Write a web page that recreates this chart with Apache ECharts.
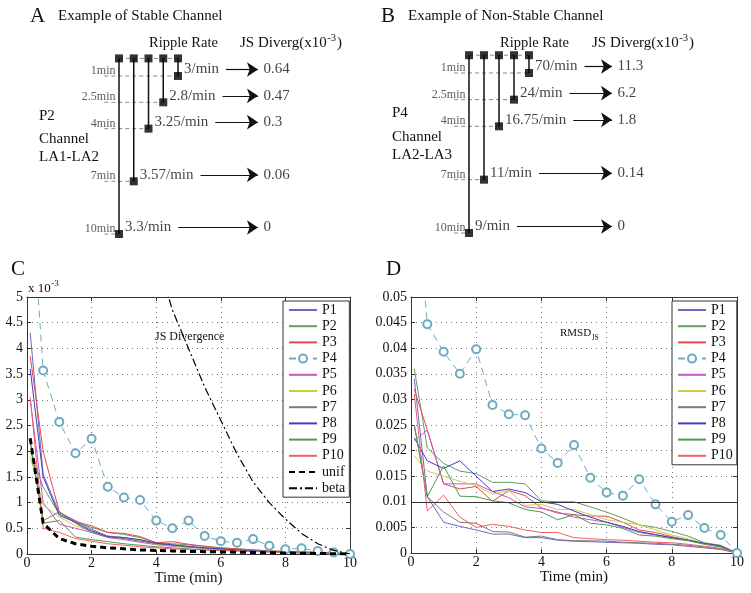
<!DOCTYPE html>
<html><head><meta charset="utf-8">
<script src="https://cdn.jsdelivr.net/npm/echarts@6/dist/echarts.min.js"></script>
<style>html,body{margin:0;padding:0;background:#fff}#c{width:751px;height:593px}</style>
</head><body><div id="c"></div>
<script>
const FONT = '"Liberation Serif", "Times New Roman", serif';

// ---------- Panel A / B data ----------
const timesA = [1, 2.5, 4, 7, 10];
const rippleA = [3, 2.8, 3.25, 3.57, 3.3];
const jsA = [0.64, 0.47, 0.3, 0.06, 0];
const timesB = [1, 2.5, 4, 7, 10];
const rippleB = [70, 24, 16.75, 11, 9];
const jsB = [11.3, 6.2, 1.8, 0.14, 0];

// ---------- Panel C / D data ----------
const timeGrid = [0.1, 0.5, 1, 1.5, 2, 2.5, 3, 3.5, 4, 4.5, 5, 5.5, 6, 6.5, 7, 7.5, 8, 8.5, 9, 9.5, 10];
const xTicks = [0, 2, 4, 6, 8, 10];
const pNames = ['P1','P2','P3','P4','P5','P6','P7','P8','P9','P10'];

// C: JS divergence (x 10^-3)
const c_P1  = [4.3, 1.55, 0.8, 0.65, 0.48, 0.35, 0.32, 0.27, 0.2, 0.17, 0.14, 0.11, 0.1, 0.08, 0.07, 0.05, 0.04, 0.03, 0.02, 0.01, 0];
const c_P2  = [2.0, 1.3, 0.78, 0.62, 0.52, 0.42, 0.38, 0.32, 0.22, 0.2, 0.18, 0.15, 0.12, 0.1, 0.08, 0.06, 0.05, 0.04, 0.03, 0.02, 0];
const c_P3  = [3.85, 2.0, 0.82, 0.63, 0.55, 0.42, 0.4, 0.34, 0.22, 0.24, 0.19, 0.15, 0.12, 0.1, 0.08, 0.06, 0.05, 0.04, 0.03, 0.02, 0];
const c_P4  = [7.3, 3.57, 2.57, 1.96, 2.24, 1.31, 1.1, 1.05, 0.65, 0.5, 0.65, 0.35, 0.25, 0.22, 0.29, 0.16, 0.09, 0.11, 0.06, 0.03, 0];
const c_P5  = [3.0, 1.0, 0.58, 0.5, 0.42, 0.32, 0.28, 0.23, 0.18, 0.15, 0.13, 0.11, 0.09, 0.07, 0.06, 0.05, 0.04, 0.03, 0.02, 0.01, 0];
const c_P6  = [1.9, 0.95, 0.72, 0.55, 0.45, 0.35, 0.3, 0.26, 0.19, 0.16, 0.14, 0.12, 0.1, 0.08, 0.06, 0.05, 0.04, 0.03, 0.02, 0.01, 0];
const c_P7  = [2.2, 0.65, 0.82, 0.6, 0.42, 0.33, 0.3, 0.25, 0.2, 0.17, 0.14, 0.12, 0.1, 0.08, 0.06, 0.05, 0.04, 0.03, 0.02, 0.01, 0];
const c_P8  = [3.6, 1.5, 0.75, 0.62, 0.45, 0.34, 0.32, 0.28, 0.21, 0.18, 0.15, 0.12, 0.1, 0.08, 0.06, 0.05, 0.04, 0.03, 0.02, 0.01, 0];
const c_P9  = [2.2, 0.6, 0.65, 0.33, 0.28, 0.24, 0.2, 0.17, 0.14, 0.12, 0.1, 0.08, 0.07, 0.06, 0.05, 0.04, 0.03, 0.02, 0.015, 0.01, 0];
const c_P10 = [3.05, 0.5, 0.42, 0.3, 0.25, 0.2, 0.17, 0.14, 0.12, 0.1, 0.09, 0.08, 0.07, 0.06, 0.05, 0.04, 0.03, 0.02, 0.015, 0.01, 0];
const c_unif = [2.25, 0.6, 0.3, 0.2, 0.15, 0.12, 0.1, 0.08, 0.07, 0.06, 0.05, 0.045, 0.04, 0.035, 0.03, 0.025, 0.02, 0.015, 0.01, 0.005, 0];
const c_beta = [30, 26, 22, 19, 16, 13.5, 11, 8.6, 5.8, 4.75, 4.0, 3.25, 2.6, 1.95, 1.4, 1.0, 0.68, 0.4, 0.2, 0.07, 0];
const cTicks = [0, 0.5, 1, 1.5, 2, 2.5, 3, 3.5, 4, 4.5, 5];

// D: RMSD of JS
const d_P1  = [0.034, 0.011, 0.006, 0.0052, 0.0045, 0.0037, 0.0037, 0.003, 0.003, 0.0025, 0.0023, 0.0022, 0.0021, 0.002, 0.0019, 0.0017, 0.0016, 0.0013, 0.001, 0.0007, 0];
const d_P2  = [0.036, 0.0205, 0.0175, 0.016, 0.0155, 0.0138, 0.0138, 0.0135, 0.0102, 0.01, 0.01, 0.009, 0.008, 0.0068, 0.0055, 0.005, 0.0042, 0.0033, 0.002, 0.0015, 0];
const d_P3  = [0.032, 0.024, 0.0135, 0.0125, 0.013, 0.0101, 0.0122, 0.0112, 0.0088, 0.0078, 0.0075, 0.0072, 0.0072, 0.006, 0.0045, 0.004, 0.0032, 0.0025, 0.0018, 0.0012, 0];
const d_P4  = [0.075, 0.0447, 0.0393, 0.035, 0.0398, 0.0289, 0.0271, 0.0269, 0.0204, 0.0176, 0.0211, 0.0147, 0.0118, 0.0112, 0.0144, 0.0095, 0.0061, 0.0074, 0.0049, 0.0035, 0];
const d_P5  = [0.022, 0.024, 0.0135, 0.0135, 0.0135, 0.012, 0.0108, 0.009, 0.0087, 0.008, 0.007, 0.0065, 0.006, 0.005, 0.004, 0.0035, 0.003, 0.0025, 0.0018, 0.0012, 0];
const d_P6  = [0.019, 0.016, 0.015, 0.014, 0.0132, 0.0115, 0.0122, 0.0093, 0.0095, 0.0085, 0.0085, 0.0075, 0.0065, 0.006, 0.0055, 0.0045, 0.0035, 0.0028, 0.0019, 0.0014, 0];
const d_P7  = [0.025, 0.011, 0.008, 0.006, 0.0058, 0.0042, 0.0041, 0.0031, 0.0033, 0.0026, 0.0024, 0.0024, 0.0023, 0.0021, 0.002, 0.0019, 0.0017, 0.0015, 0.0012, 0.0008, 0];
const d_P8  = [0.0225, 0.018, 0.0165, 0.018, 0.015, 0.012, 0.0125, 0.0118, 0.01, 0.0095, 0.0082, 0.007, 0.006, 0.0052, 0.0042, 0.0036, 0.003, 0.0025, 0.0019, 0.0014, 0];
const d_P9  = [0.025, 0.011, 0.017, 0.0111, 0.011, 0.0102, 0.0098, 0.0085, 0.008, 0.0065, 0.0075, 0.0058, 0.0055, 0.0048, 0.0035, 0.0033, 0.0028, 0.0024, 0.0017, 0.0012, 0];
const d_P10 = [0.031, 0.0082, 0.0113, 0.007, 0.005, 0.0056, 0.0052, 0.0045, 0.004, 0.004, 0.003, 0.0028, 0.0026, 0.0025, 0.0023, 0.0021, 0.002, 0.0017, 0.0013, 0.0009, 0];
const dThreshold = 0.0109;
const dTicks = [0, 0.005, 0.01, 0.015, 0.02, 0.025, 0.03, 0.035, 0.04, 0.045, 0.05];

const cData = {P1:c_P1,P2:c_P2,P3:c_P3,P4:c_P4,P5:c_P5,P6:c_P6,P7:c_P7,P8:c_P8,P9:c_P9,P10:c_P10};
const dData = {P1:d_P1,P2:d_P2,P3:d_P3,P4:d_P4,P5:d_P5,P6:d_P6,P7:d_P7,P8:d_P8,P9:d_P9,P10:d_P10};

// ---------- styles ----------
const COLORS = {P1:'#6a6ac6',P2:'#5f9f5f',P3:'#e84a4a',P4:'#6eabc0',P5:'#c456c4',P6:'#cdcd45',P7:'#7a7a7a',P8:'#3e3ec2',P9:'#4f9a4f',P10:'#f06060'};

const ctx = document.createElement('canvas').getContext('2d');
function tw(text, size){ ctx.font = size + 'px "Liberation Serif"'; return ctx.measureText(text).width; }
function txt(x, y, text, size, fill){
  return {type:'text', x:x, y:y, silent:true,
    style:{text:text, font: size + 'px "Liberation Serif"', fill: fill || '#111',
      textVerticalAlign:'middle', verticalAlign:'middle', textAlign:'left', align:'left'}};
}

// ---------- tree diagrams (A, B) ----------
function treeSeries(gi, times, ripple, js, geo){
  const out = [];
  const n = times.length;
  const lift = 6.5 / geo.minPx;
  const dashed = {color:'#8a8a8a', type:[4,3], width:1};
  const base = {xAxisIndex:gi, yAxisIndex:gi, clip:false, silent:true, animation:false};
  out.push(Object.assign({type:'line', data:[[0,0],[n-1,0]], symbol:'none', lineStyle:dashed, z:1}, base));
  const arrows = [];
  for (let i = 0; i < n; i++){
    const c = n - 1 - i, t = times[i];
    out.push(Object.assign({type:'line', data:[[c,0],[c,t]], symbol:'none', lineStyle:{color:'#111', width:1.5}, z:2}, base));
    out.push(Object.assign({type:'line', data:[[-1,t],[c,t]], symbol:'none', lineStyle:dashed, z:1}, base));
    const w = tw(ripple[i] + '/min', 15);
    const x0 = c + (6 + w + 7) / geo.colPx;
    arrows.push([{coord:[x0, t - lift]}, {coord:[geo.arrowEnd - 5 / geo.colPx, t - lift]}]);
  }
  const sq = [];
  for (let c = 0; c < n; c++) sq.push({value:[c,0], label:{show:false}});
  for (let i = 0; i < n; i++) sq.push({value:[n-1-i, times[i]], label:{show:true, formatter: ripple[i] + '/min'}});
  out.push(Object.assign({type:'scatter', data:sq, symbol:'rect', symbolSize:8, itemStyle:{color:'#000'}, z:5,
    label:{position:'right', distance:2, offset:[0,-6.5], fontSize:15, fontFamily:FONT, color:'#111'}}, base));
  out.push(Object.assign({type:'scatter', data: times.map(t => [0, t]), symbolSize:1, itemStyle:{color:'rgba(0,0,0,0)'}, z:4,
    label:{show:true, position:'left', distance:3, offset:[0,-5], fontSize:12, fontFamily:FONT, color:'#333',
      formatter: p => times[p.dataIndex] + 'min'}}, base));
  out.push(Object.assign({type:'scatter', data: times.map(t => [geo.arrowEnd, t - lift]), symbolSize:1, itemStyle:{color:'rgba(0,0,0,0)'}, z:4,
    label:{show:true, position:'right', distance:0, fontSize:15, fontFamily:FONT, color:'#111',
      formatter: p => String(js[p.dataIndex])},
    markLine:{silent:true, symbol:['none','arrow'], symbolSize:11, label:{show:false},
      lineStyle:{color:'#111', width:1.2, type:'solid'}, emphasis:{disabled:true}, data: arrows}}, base));
  return out;
}

// ---------- line plots (C, D) ----------
function plotSeries(gi, data){
  return pNames.map(name => {
    const isP4 = name === 'P4';
    return {type:'line', name:name, xAxisIndex:gi, yAxisIndex:gi, z: isP4 ? 4 : 3,
      data: timeGrid.map((t, j) => [t, data[name][j]]),
      symbol: isP4 ? 'emptyCircle' : 'none', symbolSize:8, showAllSymbol:true,
      itemStyle:{color:COLORS[name], borderWidth:1},
      lineStyle:{color:COLORS[name], width:1, type: isP4 ? [7,5] : 'solid'},
      emphasis:{disabled:true}};
  });
}

function plotAxes(gi, ymax, yint, yfmt){
  const line = {show:true, onZero:false, lineStyle:{color:'#333', width:1}};
  const tick = {show:true, inside:true, length:4, lineStyle:{color:'#333'}};
  const split = {show:true, lineStyle:{color:'#555', type:[1,4], width:0.8}};
  const lbl = {color:'#111', fontSize:14, fontFamily:FONT};
  return {
    x:[
      {type:'value', gridIndex:gi, min:xTicks[0], max:xTicks[xTicks.length-1], interval:xTicks[1]-xTicks[0], axisLine:line, axisTick:tick, splitLine:split,
        axisLabel:Object.assign({margin:2}, lbl),
        name:'Time (min)', nameLocation:'middle', nameGap:17, nameTextStyle:{fontSize:15, fontFamily:FONT, color:'#111'}},
      {type:'value', gridIndex:gi, position:'top', min:xTicks[0], max:xTicks[xTicks.length-1], interval:xTicks[1]-xTicks[0], axisLine:line, axisTick:tick,
        splitLine:{show:false}, axisLabel:{show:false}}
    ],
    y:[
      {type:'value', gridIndex:gi, min:0, max:ymax, interval:yint, axisLine:line, axisTick:tick, splitLine:split,
        axisLabel:Object.assign({margin:4, formatter:yfmt}, lbl)},
      {type:'value', gridIndex:gi, position:'right', min:0, max:ymax, interval:yint, axisLine:line, axisTick:tick,
        splitLine:{show:false}, axisLabel:{show:false}}
    ]
  };
}

const geoA = {colPx:14.75, minPx:17.56, arrowEnd:9.76};
const geoB = {colPx:15, minPx:17.78, arrowEnd:9.87};

const axC = plotAxes(2, cTicks[cTicks.length-1], cTicks[1], v => String(v));
const axD = plotAxes(3, dTicks[dTicks.length-1], dTicks[1], v => String(+v.toFixed(3)));

const series = []
  .concat(treeSeries(0, timesA, rippleA, jsA, geoA))
  .concat(treeSeries(1, timesB, rippleB, jsB, geoB));

const cSer = plotSeries(2, cData);
cSer.push({type:'line', name:'unif', z:5, data: timeGrid.map((t,j)=>[t, c_unif[j]]),
  symbol:'none', itemStyle:{color:'#000'}, lineStyle:{color:'#000', width:3, type:[6,4]}, emphasis:{disabled:true}});
cSer.push({type:'line', name:'beta', z:5, data: timeGrid.map((t,j)=>[t, c_beta[j]]),
  symbol:'none', itemStyle:{color:'#000'}, lineStyle:{color:'#000', width:1.2, type:[8,3,2,3]}, emphasis:{disabled:true}});
cSer.forEach(s => { s.xAxisIndex = 2; s.yAxisIndex = 2; });
const dSer = plotSeries(3, dData).map(s => Object.assign(s, {xAxisIndex:4, yAxisIndex:4}));
dSer[6].markLine = {silent:true, symbol:'none', label:{show:false}, emphasis:{disabled:true},
  lineStyle:{color:'#333', width:1, type:'solid'}, data:[{yAxis:dThreshold}]};

series.push(...cSer, ...dSer);

// ---------- texts ----------
const g = [];
g.push(txt(30, 16, 'A', 21));
g.push(txt(58, 16.5, 'Example of Stable Channel', 15));
g.push(txt(149, 43, 'Ripple Rate', 14.5));
g.push(txt(39, 116.5, 'P2', 15));
g.push(txt(39, 139, 'Channel', 15));
g.push(txt(39, 157.5, 'LA1-LA2', 15));
g.push(txt(381, 16, 'B', 21));
g.push(txt(408, 16.5, 'Example of Non-Stable Channel', 15));
g.push(txt(500, 43, 'Ripple Rate', 14.5));
g.push(txt(392, 113, 'P4', 15));
g.push(txt(392, 137, 'Channel', 15));
g.push(txt(392, 155.5, 'LA2-LA3', 15));
function jsHead(x, y){
  const a = 'JS Diverg(x10';
  const wa = tw(a, 15);
  g.push(txt(x, y, a, 15));
  g.push(txt(x + wa + 0.5, y - 5, '-3', 10.5));
  g.push(txt(x + wa + 0.5 + tw('-3', 10.5) + 1, y, ')', 15));
}
jsHead(240, 43);
jsHead(592, 43);
g.push(txt(11, 269.5, 'C', 21));
g.push(txt(386, 269.5, 'D', 21));
g.push(txt(28, 288.5, 'x 10', 13));
g.push(txt(28 + tw('x 10', 13) + 0.5, 284, '-3', 9));
g.push(txt(155, 337, 'JS Divergence', 12));
g.push(txt(560, 333, 'RMSD', 11));
g.push(txt(560 + tw('RMSD', 11) + 0.5, 338.5, 'JS', 7.5));

const legendBase = {orient:'vertical', selectedMode:false, backgroundColor:'#fff', borderColor:'#333', borderWidth:1,
  borderRadius:0, padding:[2,4,2,5], itemWidth:28, itemHeight:10, itemGap:2.2,
  textStyle:{fontSize:14, fontFamily:FONT, color:'#111', lineHeight:10}};
const legItem = name => name === 'P4' ? {name:name} : {name:name, itemStyle:{opacity:0}};

const option = {
  animation:false,
  backgroundColor:'#fff',
  textStyle:{fontFamily:FONT},
  grid:[
    {left:89.5, top:58.4, width:177, height:175.6, show:false, outerBoundsMode:'none'},
    {left:439, top:55.2, width:180, height:177.8, show:false, outerBoundsMode:'none'},
    {left:27, top:297, width:323, height:257, show:false, outerBoundsMode:'none'},
    {left:411, top:297, width:326, height:256, show:false, outerBoundsMode:'none'}
  ],
  xAxis:[
    {type:'value', gridIndex:0, min:-2, max:10, show:false},
    {type:'value', gridIndex:1, min:-2, max:10, show:false},
    axC.x[0], axC.x[1], axD.x[0], axD.x[1]
  ],
  yAxis:[
    {type:'value', gridIndex:0, min:0, max:10, inverse:true, show:false},
    {type:'value', gridIndex:1, min:0, max:10, inverse:true, show:false},
    axC.y[0], axC.y[1], axD.y[0], axD.y[1]
  ],
  legend:[
    Object.assign({left:283, top:301, data: pNames.concat(['unif','beta']).map(legItem)}, legendBase),
    Object.assign({left:672, top:301, data: pNames.map(legItem)}, legendBase)
  ],
  series: series,
  graphic:{elements:g}
};

const chart = echarts.init(document.getElementById('c'), null, {renderer:'canvas'});
chart.setOption(option);
</script>
</body></html>
